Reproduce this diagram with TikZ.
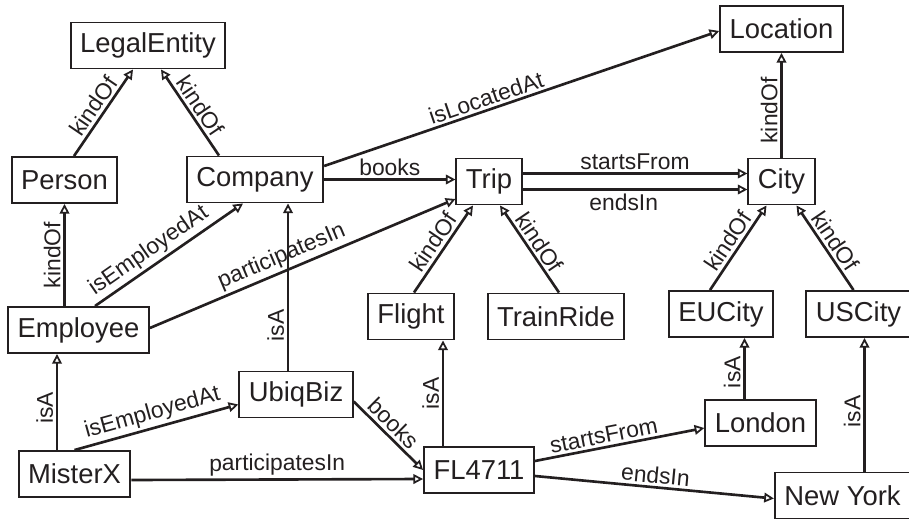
\documentclass[tikz,border=0pt]{standalone}
\usepackage{fontspec}
\setmainfont{Liberation Sans}
\usetikzlibrary{arrows.meta}
\definecolor{ink}{RGB}{35,31,32}

\begin{document}
\begin{tikzpicture}[
    cls/.style={draw=ink, line width=1.1pt, minimum height=0.92cm, inner xsep=0.19cm, text=ink, font=\fontsize{15.6}{18}\selectfont},
    rel/.style={draw=ink, line width=1.5pt, ->, >={Triangle[open, length=5.5pt, width=5.5pt, line width=1pt]}},
    lbl/.style={sloped, above, inner sep=1.5pt, text=ink, font=\fontsize{13}{15}\selectfont}
    ]
    \useasboundingbox (0,0) rectangle (18.18,10.38);
    \node [cls] (LegalEntity) at (2.96,9.47) {LegalEntity};
    \node [cls] (Location) at (15.63,9.80) {Location};
    \node [cls] (Person) at (1.29,6.78) {Person};
    \node [cls] (Company) at (5.10,6.79) {Company};
    \node [cls] (Trip) at (9.78,6.75) {Trip};
    \node [cls] (City) at (15.63,6.75) {City};
    \node [cls] (Employee) at (1.57,3.78) {Employee};
    \node [cls] (Flight) at (8.22,4.05) {Flight};
    \node [cls] (TrainRide) at (11.12,4.05) {TrainRide};
    \node [cls] (EUCity) at (14.42,4.10) {EUCity};
    \node [cls] (USCity) at (17.17,4.10) {USCity};
    \node [cls] (UbiqBiz) at (5.92,2.49) {UbiqBiz};
    \node [cls] (London) at (15.21,1.92) {London};
    \node [cls] (MisterX) at (1.49,0.90) {MisterX};
    \node [cls] (FL4711) at (9.58,0.98) {FL4711};
    \node [cls] (NewYork) at (16.85,0.47) {New York};
    \coordinate (ubiqTop) at ([xshift=-0.16cm]UbiqBiz.north);
    \coordinate (misterTop) at ([xshift=-0.35cm]MisterX.north);
    \coordinate (flTop) at ([xshift=-0.72cm]FL4711.north);
    \coordinate (londonTop) at ([xshift=-0.32cm]London.north);
    \coordinate (nyTop) at ([xshift=0.44cm]NewYork.north);
    \draw [rel] ([xshift=0.19cm]Person.north) -- ([xshift=-0.3cm]LegalEntity.south) node [lbl, midway] {kindOf};
    \draw [rel] ([xshift=-0.72cm]Company.north) -- ([xshift=0.26cm]LegalEntity.south) node [lbl, midway] {kindOf};
    \draw [rel] (Person.south |- Employee.north) -- (Person.south) node [lbl, midway] {kindOf};
    \draw [rel] ([xshift=0.33cm]Employee.north) -- ([xshift=-0.24cm]Company.south) node [lbl, pos=0.42] {isEmployedAt};
    \draw [rel] ([yshift=0.04cm]Employee.east) -- ([yshift=-0.35cm]Trip.west) node [lbl, pos=0.45] {participatesIn};
    \draw [rel] (Company.east) -- (Company.east -| Trip.west) node [lbl, midway] {books};
    \draw [rel] ([yshift=0.27cm]Company.east) -- ([yshift=-0.04cm]Location.west) node [lbl, pos=0.42] {isLocatedAt};
    \draw [rel] ([yshift=0.16cm]Trip.east) -- ([yshift=0.16cm]City.west) node [lbl, midway] {startsFrom};
    \draw [rel] ([yshift=-0.16cm]Trip.east) -- ([yshift=-0.16cm]City.west) node [lbl, below, pos=0.45] {endsIn};
    \draw [rel] (City) -- (City |- Location.south) node [lbl, pos=0.45] {kindOf};
    \draw [rel] ([xshift=0.06cm]Flight.north) -- ([xshift=-0.32cm]Trip.south) node [lbl, midway] {kindOf};
    \draw [rel] ([xshift=0.06cm]TrainRide.north) -- ([xshift=0.22cm]Trip.south) node [lbl, midway] {kindOf};
    \draw [rel] ([xshift=-0.22cm]EUCity.north) -- ([xshift=-0.3cm]City.south) node [lbl, midway] {kindOf};
    \draw [rel] ([xshift=-0.1cm]USCity.north) -- ([xshift=0.3cm]City.south) node [lbl, midway] {kindOf};
    \draw [rel] (ubiqTop) -- (ubiqTop |- Company.south) node [lbl, pos=0.27] {isA};
    \draw [rel] (misterTop) -- (misterTop |- Employee.south) node [lbl, pos=0.44] {isA};
    \draw [rel] (MisterX.north) -- ([yshift=-0.2cm]UbiqBiz.west) node [lbl, midway] {isEmployedAt};
    \draw [rel] ([yshift=-0.12cm]MisterX.east) -- ([yshift=-0.18cm]FL4711.west) node [lbl, midway] {participatesIn};
    \draw [rel] ([yshift=-0.14cm]UbiqBiz.east) -- (FL4711.west) node [lbl, pos=0.45] {books};
    \draw [rel] (flTop) -- (flTop |- Flight.south) node [lbl, midway] {isA};
    \draw [rel] ([yshift=0.18cm]FL4711.east) -- ([yshift=-0.1cm]London.west) node [lbl, pos=0.42] {startsFrom};
    \draw [rel] ([yshift=-0.12cm]FL4711.east) -- ([yshift=-0.06cm]NewYork.west) node [lbl, midway] {endsIn};
    \draw [rel] (londonTop) -- (londonTop |- EUCity.south) node [lbl, pos=0.44] {isA};
    \draw [rel] (nyTop) -- (nyTop |- USCity.south) node [lbl, pos=0.45] {isA};
\end{tikzpicture}
\end{document}
